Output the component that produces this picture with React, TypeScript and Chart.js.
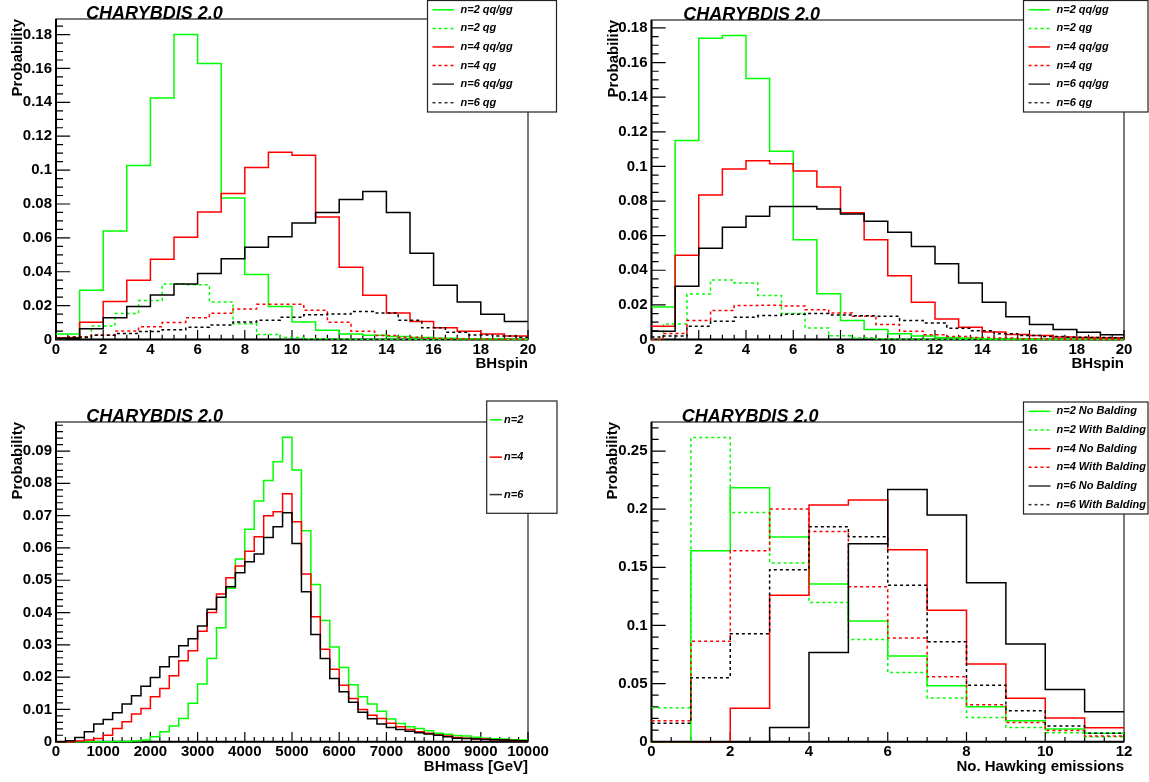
import React, { useEffect, useRef } from "react";
import { Chart, registerables } from "chart.js";

Chart.register(...registerables);

const FONT = "'Liberation Sans', Arimo, Arial, Helvetica, sans-serif";
const GREEN = "#00ff00";
const RED = "#ff0000";
const BLACK = "#000000";

// ---------- bin edges (categories) ----------
const SPIN_EDGES = [0, 1, 2, 3, 4, 5, 6, 7, 8, 9, 10, 11, 12, 13, 14, 15, 16, 17, 18, 19, 20];
const SPIN_HALF_EDGES = [0, 0.5, 1.5, 2.5, 3.5, 4.5, 5.5, 6.5, 7.5, 8.5, 9.5, 10.5, 11.5, 12.5, 13.5, 14.5, 15.5, 16.5, 17.5, 18.5, 19.5, 20];
const MASS_EDGES = [0, 200, 400, 600, 800, 1000, 1200, 1400, 1600, 1800, 2000, 2200, 2400, 2600, 2800, 3000, 3200, 3400, 3600, 3800, 4000, 4200, 4400, 4600, 4800, 5000, 5200, 5400, 5600, 5800, 6000, 6200, 6400, 6600, 6800, 7000, 7200, 7400, 7600, 7800, 8000, 8200, 8400, 8600, 8800, 9000, 9200, 9400, 9600, 9800, 10000];
const EMISSION_EDGES = [0, 1, 2, 3, 4, 5, 6, 7, 8, 9, 10, 11, 12];

// ---------- tick labels ----------
const SPIN_X_TICKS = [0, 2, 4, 6, 8, 10, 12, 14, 16, 18, 20];
const MASS_X_TICKS = [0, 1000, 2000, 3000, 4000, 5000, 6000, 7000, 8000, 9000, 10000];
const EMISSION_X_TICKS = [0, 2, 4, 6, 8, 10, 12];
const SPIN_Y_TICKS = [0, 0.02, 0.04, 0.06, 0.08, 0.1, 0.12, 0.14, 0.16, 0.18];
const MASS_Y_TICKS = [0, 0.01, 0.02, 0.03, 0.04, 0.05, 0.06, 0.07, 0.08, 0.09];
const EMISSION_Y_TICKS = [0, 0.05, 0.1, 0.15, 0.2, 0.25];

// ---------- top-left: BHspin ----------
const TL_N2_QQ = [0.0033, 0.029, 0.064, 0.1027, 0.1425, 0.18, 0.163, 0.0835, 0.0383, 0.0195, 0.0104, 0.0055, 0.0032, 0.0025, 0.0018, 0.0012, 0.0008, 0.0005, 0.0003, 0.0002];
const TL_N2_QG = [0.0005, 0.0016, 0.0079, 0.0154, 0.023, 0.0327, 0.0323, 0.0222, 0.0093, 0.003, 0.0012, 0.0005, 0.0003, 0.0002, 0.0001, 0.0001, 0, 0, 0, 0, 0];
const TL_N4_QQ = [0.001, 0.0102, 0.0225, 0.035, 0.0474, 0.0604, 0.0752, 0.0862, 0.1015, 0.1105, 0.1088, 0.0723, 0.0426, 0.0261, 0.0157, 0.0106, 0.0069, 0.0049, 0.0033, 0.002];
const TL_N4_QG = [0.001, 0.0016, 0.0026, 0.005, 0.0075, 0.0101, 0.0128, 0.0155, 0.018, 0.0208, 0.0208, 0.0173, 0.0102, 0.0049, 0.0024, 0.0013, 0.0008, 0.0004, 0.0003, 0.0002, 0.0001];
const TL_N6_QQ = [0.0008, 0.0063, 0.0128, 0.0195, 0.0263, 0.0328, 0.0389, 0.0477, 0.0544, 0.0607, 0.0688, 0.0749, 0.0827, 0.0874, 0.075, 0.0509, 0.032, 0.0222, 0.0149, 0.0106];
const TL_N6_QG = [0.0005, 0.0012, 0.0025, 0.0035, 0.0047, 0.0057, 0.0073, 0.0085, 0.0104, 0.0114, 0.0132, 0.0146, 0.015, 0.0165, 0.0157, 0.0114, 0.0069, 0.0043, 0.0027, 0.002, 0.0014];

// ---------- top-right: BHspin ----------
const TR_N2_QQ = [0.0188, 0.115, 0.174, 0.1756, 0.1508, 0.1087, 0.0577, 0.0265, 0.011, 0.0058, 0.0033, 0.002, 0.0012, 0.0008, 0.0005, 0.0003, 0.0002, 0.0002, 0.0001, 0.0001];
const TR_N2_QG = [0, 0.009, 0.0263, 0.0344, 0.0327, 0.0254, 0.015, 0.0067, 0.0021, 0.001, 0.0005, 0.0003, 0.0002, 0.0001, 0.0001, 0, 0, 0, 0, 0, 0];
const TR_N4_QQ = [0.0077, 0.0487, 0.0835, 0.0985, 0.1033, 0.1015, 0.0973, 0.0881, 0.0733, 0.0577, 0.0369, 0.0215, 0.0119, 0.0071, 0.0044, 0.0029, 0.0023, 0.0015, 0.0012, 0.001];
const TR_N4_QG = [0, 0.0035, 0.011, 0.0168, 0.0196, 0.0198, 0.0194, 0.0172, 0.0153, 0.0134, 0.0087, 0.0048, 0.0027, 0.0018, 0.0012, 0.0008, 0.0005, 0.0003, 0.0002, 0.0001, 0.0001];
const TR_N6_QQ = [0.0048, 0.0308, 0.0527, 0.0648, 0.0712, 0.0769, 0.0769, 0.0754, 0.0725, 0.0683, 0.0619, 0.0538, 0.0438, 0.0327, 0.0215, 0.0131, 0.0087, 0.0058, 0.0042, 0.0027];
const TR_N6_QG = [0.0015, 0.002, 0.0077, 0.0106, 0.0129, 0.0138, 0.0146, 0.015, 0.0142, 0.0137, 0.0135, 0.011, 0.0096, 0.0065, 0.005, 0.0033, 0.0023, 0.0017, 0.0013, 0.0012, 0.001];

// ---------- bottom-left: BHmass ----------
const BL_N2 = [0, 0, 0, 0, 0, 0, 0.0001, 0.0001, 0.0002, 0.0005, 0.0015, 0.0031, 0.0049, 0.0072, 0.0119, 0.0179, 0.0258, 0.0353, 0.0475, 0.0566, 0.0658, 0.0745, 0.0809, 0.0867, 0.0943, 0.0841, 0.0653, 0.0487, 0.0375, 0.0293, 0.023, 0.0176, 0.0139, 0.0117, 0.0094, 0.007, 0.0056, 0.0046, 0.0041, 0.0034, 0.0026, 0.0023, 0.0019, 0.0018, 0.0014, 0.0011, 0.0009, 0.0008, 0.0006, 0.0005];
const BL_N4 = [0, 0, 0.0002, 0.0005, 0.001, 0.002, 0.0041, 0.0062, 0.0086, 0.0103, 0.0139, 0.0165, 0.0204, 0.0251, 0.0282, 0.0342, 0.04, 0.0457, 0.0508, 0.0544, 0.059, 0.0635, 0.07, 0.0712, 0.0768, 0.0681, 0.0519, 0.0387, 0.0286, 0.0224, 0.0175, 0.0134, 0.01, 0.0082, 0.0072, 0.0057, 0.0046, 0.0038, 0.0031, 0.0026, 0.0021, 0.0018, 0.0013, 0.0011, 0.0009, 0.0008, 0.0006, 0.0005, 0.0004, 0.0003];
const BL_N6 = [0, 0.0003, 0.0013, 0.0031, 0.0055, 0.0069, 0.009, 0.0117, 0.0142, 0.0172, 0.0199, 0.0232, 0.0263, 0.0297, 0.0319, 0.0358, 0.041, 0.0447, 0.048, 0.0523, 0.0557, 0.0581, 0.0632, 0.0666, 0.0709, 0.0614, 0.0464, 0.0332, 0.0258, 0.0196, 0.0155, 0.0122, 0.0091, 0.0071, 0.0055, 0.0044, 0.0038, 0.0032, 0.0028, 0.0024, 0.002, 0.0015, 0.0011, 0.001, 0.0008, 0.0007, 0.0006, 0.0005, 0.0004, 0.0003];

// ---------- bottom-right: No. Hawking emissions ----------
const BR_N2_NB = [0, 0.1643, 0.2185, 0.176, 0.1356, 0.1038, 0.0737, 0.0482, 0.0301, 0.018, 0.0109, 0.0072];
const BR_N2_WB = [0.0292, 0.2617, 0.1972, 0.1537, 0.1198, 0.088, 0.0596, 0.0376, 0.0209, 0.0123, 0.0077, 0.0043];
const BR_N4_NB = [0, 0, 0.0287, 0.1259, 0.2035, 0.2079, 0.1651, 0.113, 0.0668, 0.0373, 0.0204, 0.012];
const BR_N4_WB = [0.018, 0.0863, 0.1643, 0.2001, 0.1809, 0.1333, 0.0892, 0.0559, 0.0318, 0.0166, 0.0097, 0.0049];
const BR_N6_NB = [0, 0, 0, 0.0123, 0.0768, 0.1703, 0.217, 0.195, 0.1368, 0.084, 0.045, 0.0258];
const BR_N6_WB = [0.0158, 0.055, 0.0929, 0.148, 0.185, 0.1763, 0.1345, 0.086, 0.0485, 0.0267, 0.0135, 0.0072];

const TITLE = "CHARYBDIS 2.0";
const Y_TITLE = "Probability";

type Series = { label: string; edges: number[]; values: number[]; color: string; dashed: boolean };
type Box = { left: number; right: number; top: number; bottom: number };
type Spec = {
  id: string;
  left: number; top: number; width: number; height: number;
  area: Box;
  xMin: number; xMax: number; xTicks: number[]; xMinor: number;
  yMax: number; yTicks: number[]; yMinor: number;
  xTitle: string; xTitlePad: number; yTitlePad: number;
  titleX: number; titleY: number;
  legend: { x: number; y: number; w: number; h: number; s0: number; s1: number; tx: number };
  series: Series[];
};

function steps(edges: number[], values: number[]) {
  const pts = values.map((v, i) => ({ x: edges[i], y: v }));
  pts.push({ x: edges[values.length], y: values[values.length - 1] });
  return pts;
}

const s = (label: string, edges: number[], values: number[], color: string, dashed: boolean): Series => ({ label, edges, values, color, dashed });

const SPECS: Spec[] = [
  {
    id: "tl", left: 0, top: 0, width: 575, height: 391,
    area: { left: 56, right: 528, top: 19, bottom: 339.5 },
    xMin: 0, xMax: 20, xTicks: SPIN_X_TICKS, xMinor: 0.5,
    yMax: 0.1892, yTicks: SPIN_Y_TICKS, yMinor: 0.005,
    xTitle: "BHspin", xTitlePad: 18.2, yTitlePad: 8.4,
    titleX: 86, titleY: 18.5,
    legend: { x: 427.5, y: 0.5, w: 129, h: 111.5, s0: 432.5, s1: 454, tx: 460.5 },
    series: [
      s("n=2 qq/gg", SPIN_EDGES, TL_N2_QQ, GREEN, false),
      s("n=2 qg", SPIN_HALF_EDGES, TL_N2_QG, GREEN, true),
      s("n=4 qq/gg", SPIN_EDGES, TL_N4_QQ, RED, false),
      s("n=4 qg", SPIN_HALF_EDGES, TL_N4_QG, RED, true),
      s("n=6 qq/gg", SPIN_EDGES, TL_N6_QQ, BLACK, false),
      s("n=6 qg", SPIN_HALF_EDGES, TL_N6_QG, BLACK, true),
    ],
  },
  {
    id: "tr", left: 575, top: 0, width: 574, height: 391,
    area: { left: 76.5, right: 549, top: 20, bottom: 339.5 },
    xMin: 0, xMax: 20, xTicks: SPIN_X_TICKS, xMinor: 0.5,
    yMax: 0.1846, yTicks: SPIN_Y_TICKS, yMinor: 0.005,
    xTitle: "BHspin", xTitlePad: 18.2, yTitlePad: 29.5,
    titleX: 108.3, titleY: 19.5,
    legend: { x: 448.5, y: 0.5, w: 124.5, h: 111.5, s0: 453.5, s1: 475, tx: 481.5 },
    series: [
      s("n=2 qq/gg", SPIN_EDGES, TR_N2_QQ, GREEN, false),
      s("n=2 qg", SPIN_HALF_EDGES, TR_N2_QG, GREEN, true),
      s("n=4 qq/gg", SPIN_EDGES, TR_N4_QQ, RED, false),
      s("n=4 qg", SPIN_HALF_EDGES, TR_N4_QG, RED, true),
      s("n=6 qq/gg", SPIN_EDGES, TR_N6_QQ, BLACK, false),
      s("n=6 qg", SPIN_HALF_EDGES, TR_N6_QG, BLACK, true),
    ],
  },
  {
    id: "bl", left: 0, top: 391, width: 575, height: 391,
    area: { left: 56, right: 528, top: 31, bottom: 350.7 },
    xMin: 0, xMax: 10000, xTicks: MASS_X_TICKS, xMinor: 200,
    yMax: 0.099, yTicks: MASS_Y_TICKS, yMinor: 0.002,
    xTitle: "BHmass [GeV]", xTitlePad: 6.5, yTitlePad: 8.4,
    titleX: 86.3, titleY: 30.5,
    legend: { x: 486.7, y: 10, w: 70.3, h: 112.3, s0: 489.5, s1: 502, tx: 504 },
    series: [
      s("n=2", MASS_EDGES, BL_N2, GREEN, false),
      s("n=4", MASS_EDGES, BL_N4, RED, false),
      s("n=6", MASS_EDGES, BL_N6, BLACK, false),
    ],
  },
  {
    id: "br", left: 575, top: 391, width: 574, height: 391,
    area: { left: 76.5, right: 549, top: 31, bottom: 350.7 },
    xMin: 0, xMax: 12, xTicks: EMISSION_X_TICKS, xMinor: 0.5,
    yMax: 0.275, yTicks: EMISSION_Y_TICKS, yMinor: 0.01,
    xTitle: "No. Hawking emissions", xTitlePad: 6.5, yTitlePad: 29,
    titleX: 106.7, titleY: 30.5,
    legend: { x: 448.5, y: 11, w: 124.5, h: 112, s0: 453.5, s1: 475.5, tx: 481.5 },
    series: [
      s("n=2 No Balding", EMISSION_EDGES, BR_N2_NB, GREEN, false),
      s("n=2 With Balding", EMISSION_EDGES, BR_N2_WB, GREEN, true),
      s("n=4 No Balding", EMISSION_EDGES, BR_N4_NB, RED, false),
      s("n=4 With Balding", EMISSION_EDGES, BR_N4_WB, RED, true),
      s("n=6 No Balding", EMISSION_EDGES, BR_N6_NB, BLACK, false),
      s("n=6 With Balding", EMISSION_EDGES, BR_N6_WB, BLACK, true),
    ],
  },
];

const LINE_W = 1.5;
const DASH = [3, 3];

function fmt(v: number | string) {
  const n = Number(v);
  return String(Number(n.toFixed(4)));
}

function makeDecor(spec: Spec) {
  return {
    id: "rootDecor_" + spec.id,
    beforeDatasetsDraw(chart: any) {
      const ctx: CanvasRenderingContext2D = chart.ctx;
      const a = chart.chartArea;
      const xs = chart.scales.x;
      const ys = chart.scales.y;
      ctx.save();
      ctx.strokeStyle = "#222";
      ctx.lineWidth = 1.2;
      ctx.strokeRect(a.left, a.top, a.right - a.left, a.bottom - a.top);
      const yMaj = 0.03 * (a.right - a.left);
      const xMaj = 0.03 * (a.bottom - a.top);
      ctx.strokeStyle = "#000";
      ctx.lineWidth = 1.2;
      ctx.beginPath();
      const yStep = spec.yTicks[1] - spec.yTicks[0];
      const ry = Math.round(yStep / spec.yMinor);
      const ny = Math.floor(spec.yMax / spec.yMinor + 1e-6);
      for (let i = 0; i <= ny; i++) {
        const py = ys.getPixelForValue(i * spec.yMinor);
        const len = i % ry === 0 ? yMaj : yMaj / 2;
        ctx.moveTo(a.left, py);
        ctx.lineTo(a.left + len, py);
      }
      const xStep = spec.xTicks[1] - spec.xTicks[0];
      const rx = Math.round(xStep / spec.xMinor);
      const nx = Math.round((spec.xMax - spec.xMin) / spec.xMinor);
      for (let i = 0; i <= nx; i++) {
        const px = xs.getPixelForValue(spec.xMin + i * spec.xMinor);
        const len = i % rx === 0 ? xMaj : xMaj / 2;
        ctx.moveTo(px, a.bottom);
        ctx.lineTo(px, a.bottom - len);
      }
      ctx.stroke();
      ctx.lineWidth = 2;
      ctx.beginPath();
      ctx.moveTo(a.left, a.top);
      ctx.lineTo(a.left, a.bottom);
      ctx.lineTo(a.right, a.bottom);
      ctx.stroke();
      ctx.restore();
    },
    afterDraw(chart: any) {
      const ctx: CanvasRenderingContext2D = chart.ctx;
      ctx.save();
      ctx.fillStyle = "#000";
      ctx.font = `italic bold 18px ${FONT}`;
      ctx.textAlign = "left";
      ctx.textBaseline = "alphabetic";
      ctx.fillText(TITLE, spec.titleX, spec.titleY);
      const L = spec.legend;
      ctx.fillStyle = "#fff";
      ctx.fillRect(L.x, L.y, L.w, L.h);
      ctx.strokeStyle = "#222";
      ctx.lineWidth = 1.2;
      ctx.strokeRect(L.x, L.y, L.w, L.h);
      const n = spec.series.length;
      spec.series.forEach((ser, i) => {
        const cy = L.y + (L.h * (i + 0.5)) / n;
        ctx.strokeStyle = ser.color === BLACK ? "#333" : ser.color;
        ctx.lineWidth = LINE_W;
        ctx.setLineDash(ser.dashed ? DASH : []);
        ctx.beginPath();
        ctx.moveTo(L.s0, cy);
        ctx.lineTo(L.s1, cy);
        ctx.stroke();
        ctx.setLineDash([]);
        ctx.fillStyle = "#000";
        ctx.font = `italic bold 11px ${FONT}`;
        ctx.textBaseline = "middle";
        ctx.fillText(ser.label, L.tx, cy);
      });
      ctx.restore();
    },
  };
}

function buildConfig(spec: Spec): any {
  const tickFont = { family: FONT, size: 15, weight: "bold" as const };
  const datasets = spec.series
    .map((ser) => ({
      label: ser.label,
      data: steps(ser.edges, ser.values),
      borderColor: ser.color,
      backgroundColor: ser.color,
      borderWidth: LINE_W,
      borderDash: ser.dashed ? DASH : [],
      stepped: true,
      pointRadius: 0,
      fill: false,
      tension: 0,
      clip: false,
    }))
    .reverse();
  return {
    type: "line",
    data: { datasets },
    options: {
      responsive: false,
      animation: false,
      events: [],
      layout: { padding: { top: spec.area.top, right: spec.width - spec.area.right, left: 0, bottom: 0 } },
      plugins: { legend: { display: false }, tooltip: { enabled: false }, title: { display: false } },
      elements: { point: { radius: 0 } },
      scales: {
        x: {
          type: "linear",
          min: spec.xMin,
          max: spec.xMax,
          afterFit: (sc: any) => { sc.height = spec.height - spec.area.bottom; },
          afterBuildTicks: (sc: any) => { sc.ticks = spec.xTicks.map((v) => ({ value: v })); },
          grid: { display: false, drawTicks: false },
          border: { display: false },
          ticks: { autoSkip: false, maxRotation: 0, minRotation: 0, includeBounds: false, padding: 1.2, color: "#000", font: tickFont, callback: (v: any) => fmt(v) },
          title: { display: true, text: spec.xTitle, align: "end", color: "#000", font: tickFont, padding: { top: 0, bottom: spec.xTitlePad } },
        },
        y: {
          type: "linear",
          min: 0,
          max: spec.yMax,
          afterFit: (sc: any) => { sc.width = spec.area.left; },
          afterBuildTicks: (sc: any) => { sc.ticks = spec.yTicks.map((v) => ({ value: v })); },
          grid: { display: false, drawTicks: false },
          border: { display: false },
          ticks: { autoSkip: false, includeBounds: false, padding: 4, color: "#000", font: tickFont, callback: (v: any) => fmt(v) },
          title: { display: true, text: Y_TITLE, align: "end", color: "#000", font: tickFont, padding: { top: spec.yTitlePad, bottom: 0 } },
        },
      },
    },
    plugins: [makeDecor(spec)],
  };
}

function Panel({ spec }: { spec: Spec }) {
  const ref = useRef<HTMLCanvasElement>(null);
  useEffect(() => {
    if (!ref.current) return;
    const chart = new Chart(ref.current, buildConfig(spec));
    return () => chart.destroy();
  }, [spec]);
  return (
    <canvas
      ref={ref}
      width={spec.width}
      height={spec.height}
      style={{ position: "absolute", left: spec.left, top: spec.top, width: spec.width, height: spec.height }}
    />
  );
}

export default function App() {
  return (
    <div style={{ position: "absolute", left: 0, top: 0, width: 1149, height: 782, background: "#fff", overflow: "hidden" }}>
      {SPECS.map((sp) => (
        <Panel key={sp.id} spec={sp} />
      ))}
    </div>
  );
}
